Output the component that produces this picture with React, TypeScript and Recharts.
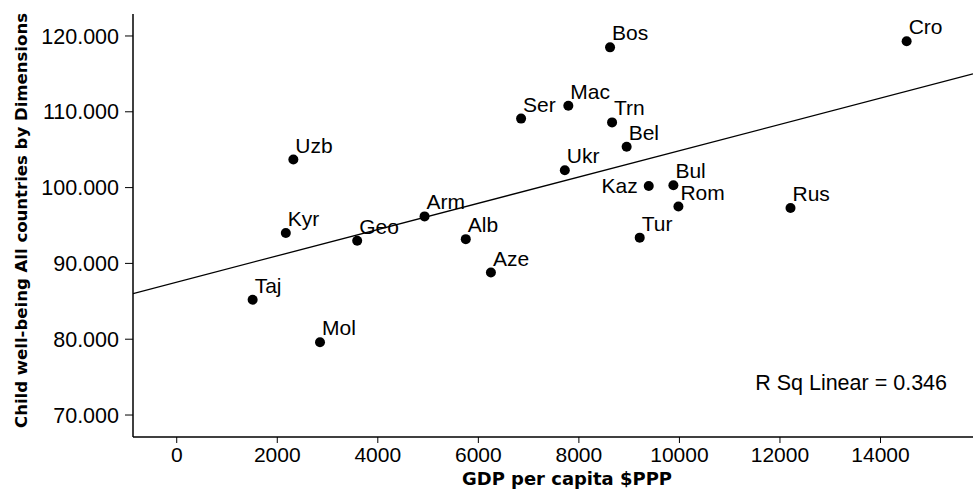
import React from 'react';
import { ScatterChart, Scatter, XAxis, YAxis, ReferenceLine, Label } from 'recharts';

const countries = ['Taj', 'Kyr', 'Uzb', 'Mol', 'Geo', 'Arm', 'Alb', 'Aze', 'Ser', 'Ukr', 'Mac', 'Bos', 'Trn', 'Bel', 'Tur', 'Kaz', 'Bul', 'Rom', 'Rus', 'Cro'];
const gdp = [1510, 2170, 2320, 2850, 3590, 4930, 5750, 6250, 6850, 7720, 7790, 8620, 8660, 8950, 9210, 9390, 9880, 9980, 12210, 14520];
const wellbeing = [85.2, 94.0, 103.7, 79.6, 93.0, 96.2, 93.2, 88.8, 109.1, 102.3, 110.8, 118.5, 108.6, 105.4, 93.4, 100.2, 100.3, 97.5, 97.3, 119.3];
const leftLabelCountries = ['Kaz'];

const xTicks = [0, 2000, 4000, 6000, 8000, 10000, 12000, 14000];
const yTicks = [70, 80, 90, 100, 110, 120];
const xDomain = [-870, 15840];
const yDomain = [67.1, 122.9];

const fitIntercept = 87.53;
const fitSlope = 0.001734;
const rSquared = 0.346;

const xTitle = 'GDP per capita $PPP';
const yTitle = 'Child well-being All countries by Dimensions';

const data = countries.map((name, i) => ({ name, gdp: gdp[i], wb: wellbeing[i] }));
const fitSegment = [
  { x: xDomain[0], y: fitIntercept + fitSlope * xDomain[0] },
  { x: xDomain[1], y: fitIntercept + fitSlope * xDomain[1] },
];

const FONT = '"Liberation Sans", Arial, sans-serif';
const TITLE_FONT = '"DejaVu Sans", "Liberation Sans", Arial, sans-serif';

const PointShape = (props: any) => {
  const { cx, cy, payload } = props;
  const left = leftLabelCountries.includes(payload.name);
  return (
    <g>
      <circle cx={cx} cy={cy} r={5} fill="#000" />
      <text
        x={left ? cx - 11 : cx + 2}
        y={left ? cy + 7 : cy - 7}
        textAnchor={left ? 'end' : 'start'}
        fontSize={21}
        fontFamily={FONT}
        fill="#000"
      >
        {payload.name}
      </text>
    </g>
  );
};

export default function App() {
  return (
    <div style={{ position: 'absolute', left: 0, top: 0, background: '#fff' }}>
      <ScatterChart width={973} height={490} margin={{ top: 14, right: 0, bottom: 0, left: 0 }}>
        <XAxis
          type="number"
          dataKey="gdp"
          domain={xDomain}
          ticks={xTicks}
          allowDataOverflow
          height={53}
          tickSize={6}
          tickMargin={4}
          tick={{ fontSize: 21, fontFamily: FONT, fill: '#000' }}
          tickLine={{ stroke: '#000' }}
          axisLine={{ stroke: '#000', strokeWidth: 1.5 }}
          interval={0}
        >
          <Label
            content={() => (
              <text
                x={462}
                y={485}
                textAnchor="start"
                fontSize={17.5}
                fontWeight="bold"
                fontFamily={TITLE_FONT}
                textLength={210}
                lengthAdjust="spacingAndGlyphs"
                fill="#000"
              >
                {xTitle}
              </text>
            )}
          />
        </XAxis>
        <XAxis
          xAxisId="top"
          orientation="top"
          type="number"
          domain={xDomain}
          allowDataOverflow
          height={0}
          tick={false}
          tickLine={false}
          axisLine={{ stroke: '#000', strokeWidth: 1.5 }}
        />
        <YAxis
          type="number"
          dataKey="wb"
          domain={yDomain}
          ticks={yTicks}
          allowDataOverflow
          width={133}
          tickSize={8}
          tickMargin={6}
          tickFormatter={(v: number) => v.toFixed(3)}
          tick={{ fontSize: 21.5, fontFamily: FONT, fill: '#000' }}
          tickLine={{ stroke: '#000' }}
          axisLine={{ stroke: '#000', strokeWidth: 1.5 }}
          interval={0}
        >
          <Label
            content={() => (
              <text
                x={0}
                y={0}
                transform="translate(27 428) rotate(-90)"
                textAnchor="start"
                fontSize={16.5}
                fontWeight="bold"
                fontFamily={TITLE_FONT}
                textLength={415}
                lengthAdjust="spacingAndGlyphs"
                fill="#000"
              >
                {yTitle}
              </text>
            )}
          />
        </YAxis>
        <ReferenceLine segment={fitSegment} stroke="#000" strokeWidth={1.3} ifOverflow="hidden" />
        <Scatter data={data} shape={<PointShape />} isAnimationActive={false} />
        <text x={947} y={390} textAnchor="end" fontSize={21.5} fontFamily={FONT} fill="#000">
          {`R Sq Linear = ${rSquared.toFixed(3)}`}
        </text>
      </ScatterChart>
    </div>
  );
}
